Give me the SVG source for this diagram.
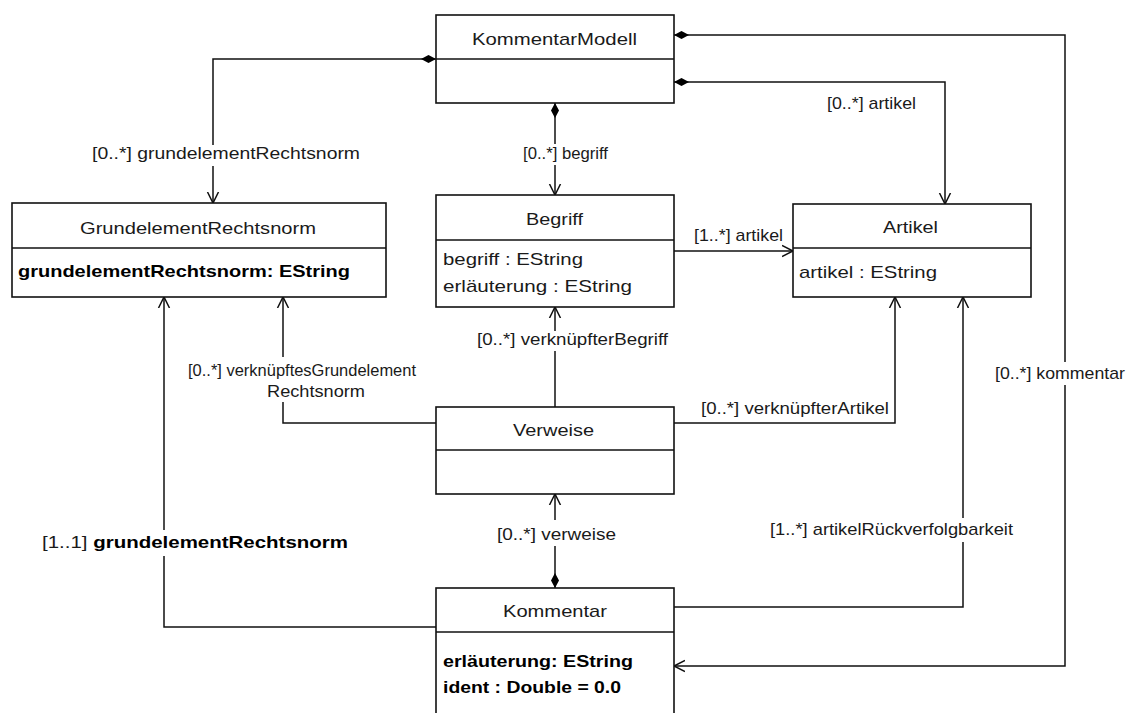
<svg xmlns="http://www.w3.org/2000/svg" width="1126" height="713" viewBox="0 0 1126 713">
<style>
.box{fill:#fff;stroke:#111;stroke-width:1.6}
.div{stroke:#111;stroke-width:1.6}
.t{font-family:"Liberation Sans",Arial,sans-serif;font-size:17px;fill:#1a1a1a}
.b{font-weight:bold;fill:#000}
.c{fill:none;stroke:#111;stroke-width:1.5}
</style>
<defs>
<marker id="arr" markerUnits="userSpaceOnUse" markerWidth="14" markerHeight="14" refX="11" refY="6" orient="auto" viewBox="0 0 14 12">
<path d="M0,0.5 L11,6 L0,11.5" fill="none" stroke="#111" stroke-width="1.5"/>
</marker>
<marker id="dia" markerUnits="userSpaceOnUse" markerWidth="16" markerHeight="10" refX="0" refY="4.5" orient="auto" viewBox="0 0 16 9">
<path d="M0,4.5 L7.5,0.5 L15,4.5 L7.5,8.5 Z" fill="#000"/>
</marker>
</defs>
<rect width="1126" height="713" fill="#fff"/>

<g id="connectors">
<!-- KommentarModell -> GrundelementRechtsnorm -->
<path class="c" marker-start="url(#dia)" d="M436,59 H213 V145"/>
<path class="c" marker-end="url(#arr)" d="M213,166 V203"/>
<text class="t" x="92" y="159" textLength="268" lengthAdjust="spacingAndGlyphs">[0..*] grundelementRechtsnorm</text>
<!-- KommentarModell -> Begriff -->
<path class="c" marker-start="url(#dia)" d="M555,103 V144"/>
<path class="c" marker-end="url(#arr)" d="M555,165 V195"/>
<text class="t" x="523" y="159" textLength="85" lengthAdjust="spacingAndGlyphs">[0..*] begriff</text>
<!-- KommentarModell -> Artikel -->
<path class="c" marker-start="url(#dia)" marker-end="url(#arr)" d="M674,82 H945 V204"/>
<text class="t" x="827" y="109" textLength="89" lengthAdjust="spacingAndGlyphs">[0..*] artikel</text>
<!-- KommentarModell -> Kommentar -->
<path class="c" marker-start="url(#dia)" d="M674,35 H1065 V362"/>
<path class="c" marker-end="url(#arr)" d="M1065,385 V666 H674"/>
<text class="t" x="995" y="379" textLength="130" lengthAdjust="spacingAndGlyphs">[0..*] kommentar</text>
<!-- Begriff -> Artikel -->
<path class="c" marker-end="url(#arr)" d="M674,251 H793"/>
<text class="t" x="694" y="241" textLength="89" lengthAdjust="spacingAndGlyphs">[1..*] artikel</text>
<!-- Verweise -> Begriff -->
<path class="c" d="M555,407 V351"/>
<path class="c" marker-end="url(#arr)" d="M555,331 V307"/>
<text class="t" x="477" y="345" textLength="191" lengthAdjust="spacingAndGlyphs">[0..*] verknüpfterBegriff</text>
<!-- Verweise -> GrundelementRechtsnorm -->
<path class="c" d="M436,423 H283 V402"/>
<path class="c" marker-end="url(#arr)" d="M283,357 V297"/>
<text class="t" x="188" y="376" textLength="228" lengthAdjust="spacingAndGlyphs">[0..*] verknüpftesGrundelement</text>
<text class="t" x="267" y="397" textLength="98" lengthAdjust="spacingAndGlyphs">Rechtsnorm</text>
<!-- Verweise -> Artikel -->
<path class="c" marker-end="url(#arr)" d="M674,423 H895 V297"/>
<text class="t" x="701" y="414" textLength="188" lengthAdjust="spacingAndGlyphs">[0..*] verknüpfterArtikel</text>
<!-- Kommentar -> Verweise -->
<path class="c" marker-start="url(#dia)" d="M555,588 V546"/>
<path class="c" marker-end="url(#arr)" d="M555,520 V494"/>
<text class="t" x="497" y="540" textLength="119" lengthAdjust="spacingAndGlyphs">[0..*] verweise</text>
<!-- Kommentar -> GrundelementRechtsnorm -->
<path class="c" d="M436,627 H164 V556"/>
<path class="c" marker-end="url(#arr)" d="M164,530 V297"/>
<text class="t" x="42" y="548" textLength="306" lengthAdjust="spacingAndGlyphs">[1..1] <tspan class="b">grundelementRechtsnorm</tspan></text>
<!-- Kommentar -> Artikel -->
<path class="c" d="M674,607 H963 V542"/>
<path class="c" marker-end="url(#arr)" d="M963,518 V297"/>
<text class="t" x="770" y="535" textLength="243" lengthAdjust="spacingAndGlyphs">[1..*] artikelRückverfolgbarkeit</text>
</g>

<g id="KommentarModell">
<rect class="box" x="436" y="15" width="238" height="88"/>
<line class="div" x1="436" y1="59" x2="674" y2="59"/>
<text class="t" x="472" y="45" textLength="165" lengthAdjust="spacingAndGlyphs">KommentarModell</text>
</g>

<g id="GrundelementRechtsnorm">
<rect class="box" x="12" y="203" width="374" height="94"/>
<line class="div" x1="12" y1="248" x2="386" y2="248"/>
<text class="t" x="80" y="234" textLength="236" lengthAdjust="spacingAndGlyphs">GrundelementRechtsnorm</text>
<text class="t b" x="18" y="277" textLength="332" lengthAdjust="spacingAndGlyphs">grundelementRechtsnorm: EString</text>
</g>

<g id="Begriff">
<rect class="box" x="436" y="195" width="238" height="112"/>
<line class="div" x1="436" y1="240" x2="674" y2="240"/>
<text class="t" x="526" y="225" textLength="57" lengthAdjust="spacingAndGlyphs">Begriff</text>
<text class="t" x="443" y="265" textLength="140" lengthAdjust="spacingAndGlyphs">begriff : EString</text>
<text class="t" x="443" y="292" textLength="189" lengthAdjust="spacingAndGlyphs">erläuterung : EString</text>
</g>

<g id="Artikel">
<rect class="box" x="793" y="204" width="238" height="93"/>
<line class="div" x1="793" y1="248" x2="1031" y2="248"/>
<text class="t" x="883" y="233" textLength="55" lengthAdjust="spacingAndGlyphs">Artikel</text>
<text class="t" x="799" y="278" textLength="138" lengthAdjust="spacingAndGlyphs">artikel : EString</text>
</g>

<g id="Verweise">
<rect class="box" x="436" y="407" width="238" height="87"/>
<line class="div" x1="436" y1="450" x2="674" y2="450"/>
<text class="t" x="513" y="436" textLength="81" lengthAdjust="spacingAndGlyphs">Verweise</text>
</g>

<g id="Kommentar">
<rect class="box" x="436" y="588" width="238" height="140"/>
<line class="div" x1="436" y1="632" x2="674" y2="632"/>
<text class="t" x="503" y="617" textLength="104" lengthAdjust="spacingAndGlyphs">Kommentar</text>
<text class="t b" x="443" y="667" textLength="190" lengthAdjust="spacingAndGlyphs">erläuterung: EString</text>
<text class="t b" x="443" y="693" textLength="178" lengthAdjust="spacingAndGlyphs">ident : Double = 0.0</text>
</g>
</svg>
